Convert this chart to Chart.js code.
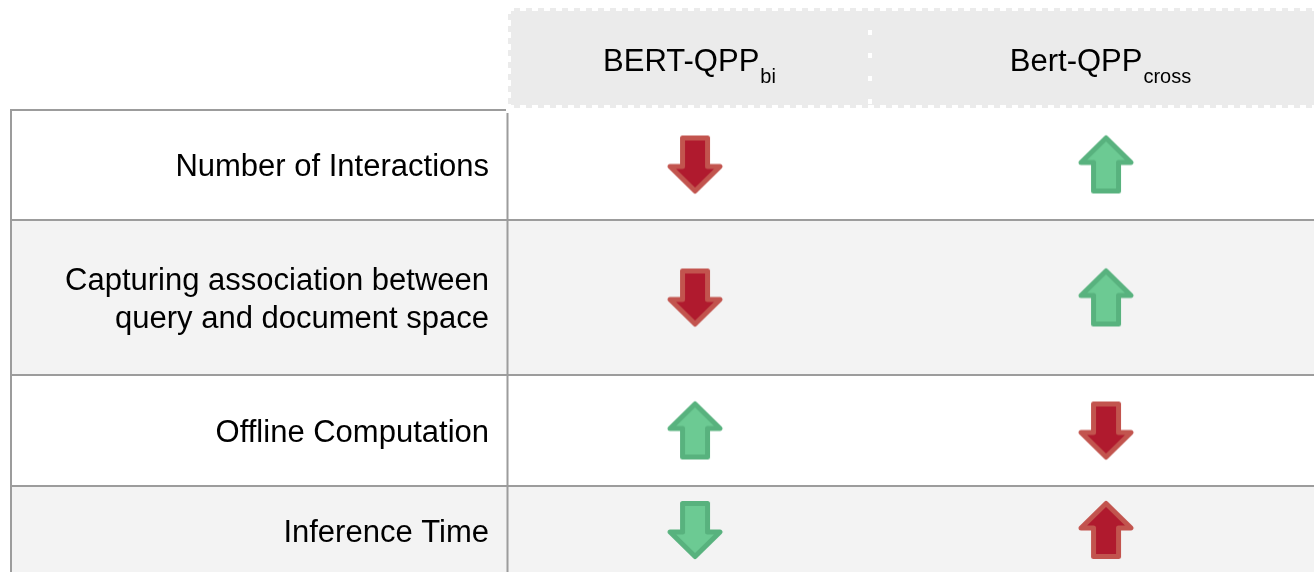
<!DOCTYPE html>
<html>
<head>
<meta charset="utf-8">
<script src="https://cdn.jsdelivr.net/npm/chart.js@4/dist/chart.umd.min.js"></script>
<style>
  html, body { margin: 0; padding: 0; background: #ffffff; }
  #wrap { width: 1314px; height: 572px; }
</style>
</head>
<body>
<div id="wrap"><canvas id="c" width="1314" height="572"></canvas></div>
<script>
// ---------- data ----------
const features = [
  'Number of Interactions',
  ['Capturing association between', 'query and document space'],
  'Offline Computation',
  'Inference Time'
];
const modelNames = ['BERT-QPP', 'Bert-QPP'];
const modelSubs = ['bi', 'cross'];
// 1 = higher (up arrow), -1 = lower (down arrow)
const biDirection = [-1, -1, 1, -1];
const crossDirection = [1, 1, -1, 1];
// whether that direction is favourable (green) or not (red)
const biFavourable = [false, false, true, true];
const crossFavourable = [true, true, false, false];

// ---------- layout (not data) ----------
const FONT = "'Liberation Sans', Arial, Helvetica, sans-serif";
const headerTop = 8;
const tableTop = 108;
const labelColWidth = 508;
const rowEdges = [1, 112, 267, 378, 466];   // y-scale units (pixels below tableTop)
const yMax = 464;
const xMin = 0.045, xMax = 2.006;
const headerSplitPx = 870, headerRightPx = 1330;
const lineColor = '#9c9c9c';
const altRowColor = '#f3f3f3';
const headerColor = '#ebebeb';

const rowCenters = features.map((f, i) => (rowEdges[i] + rowEdges[i + 1]) / 2);

function makeArrow(dir, good) {
  const c = document.createElement('canvas');
  c.width = 64; c.height = 66;
  const g = c.getContext('2d');
  g.translate(32, 33);
  if (dir < 0) g.scale(1, -1);
  g.beginPath();
  g.moveTo(0, -26.5);
  g.lineTo(25, -2);
  g.lineTo(12.5, -2);
  g.lineTo(12.5, 26.5);
  g.lineTo(-12.5, 26.5);
  g.lineTo(-12.5, -2);
  g.lineTo(-25, -2);
  g.closePath();
  g.lineJoin = 'round';
  g.lineWidth = 5;
  g.fillStyle = good ? '#6cca93' : '#b01a2e';
  g.strokeStyle = good ? '#58b27e' : '#c2544e';
  g.fill();
  g.stroke();
  return c;
}

const tablePlugin = {
  id: 'tablePlugin',
  beforeDraw(chart) {
    const ctx = chart.ctx;
    const y = chart.scales.y;
    const W = chart.width, H = chart.height;
    ctx.save();
    ctx.fillStyle = '#ffffff';
    ctx.fillRect(0, 0, W, H);
    // alternating row backgrounds
    features.forEach((f, i) => {
      if (i % 2 === 1) {
        const t = y.getPixelForValue(rowEdges[i]);
        const b = y.getPixelForValue(rowEdges[i + 1]);
        ctx.fillStyle = altRowColor;
        ctx.fillRect(10, t, W - 10, b - t);
      }
    });
    // header band
    const left = chart.chartArea.left;
    ctx.fillStyle = headerColor;
    ctx.fillRect(left, headerTop, headerRightPx - left, tableTop - headerTop);
    ctx.strokeStyle = '#ffffff';
    ctx.lineWidth = 3;
    ctx.setLineDash([6, 6]);
    ctx.beginPath();
    ctx.moveTo(left, headerTop + 1.5); ctx.lineTo(W, headerTop + 1.5);
    ctx.moveTo(left, tableTop - 1.5); ctx.lineTo(W, tableTop - 1.5);
    ctx.moveTo(left + 1.5, headerTop); ctx.lineTo(left + 1.5, tableTop);
    ctx.stroke();
    ctx.lineWidth = 4;
    ctx.setLineDash([5, 18]);
    ctx.beginPath();
    ctx.moveTo(headerSplitPx, headerTop + 22); ctx.lineTo(headerSplitPx, tableTop);
    ctx.stroke();
    ctx.setLineDash([]);
    // header text
    const cols = [[left, headerSplitPx], [headerSplitPx, headerRightPx]];
    ctx.fillStyle = '#000000';
    ctx.textBaseline = 'alphabetic';
    ctx.textAlign = 'left';
    modelNames.forEach((name, i) => {
      ctx.font = '31px ' + FONT;
      const w1 = ctx.measureText(name).width;
      ctx.font = '20px ' + FONT;
      const w2 = ctx.measureText(modelSubs[i]).width;
      const cx = (cols[i][0] + cols[i][1]) / 2;
      const x0 = cx - (w1 + w2) / 2;
      ctx.font = '31px ' + FONT;
      ctx.fillText(name, x0, 71);
      ctx.font = '20px ' + FONT;
      ctx.fillText(modelSubs[i], x0 + w1 + 1, 83);
    });
    // grid lines
    ctx.strokeStyle = lineColor;
    ctx.lineWidth = 2;
    ctx.beginPath();
    const top = y.getPixelForValue(rowEdges[0]);
    ctx.moveTo(10, top + 1); ctx.lineTo(506, top + 1);
    ctx.moveTo(11, top); ctx.lineTo(11, H);
    ctx.moveTo(left - 0.5, top + 4); ctx.lineTo(left - 0.5, H);
    for (let i = 1; i < rowEdges.length - 1; i++) {
      const p = Math.round(y.getPixelForValue(rowEdges[i]));
      ctx.moveTo(10, p); ctx.lineTo(W, p);
    }
    ctx.stroke();
    ctx.restore();
  }
};

const datasets = [
  { dir: biDirection, fav: biFavourable, x: 0.5, label: modelNames[0] + modelSubs[0] },
  { dir: crossDirection, fav: crossFavourable, x: 1.5, label: modelNames[1] + modelSubs[1] }
].map(d => ({
  label: d.label,
  data: d.dir.map((v, i) => ({ x: d.x, y: rowCenters[i] })),
  pointStyle: d.dir.map((v, i) => makeArrow(v, d.fav[i])),
  pointRadius: 5,
  pointHoverRadius: 5,
  clip: false
}));

new Chart(document.getElementById('c'), {
  type: 'scatter',
  data: { datasets },
  plugins: [tablePlugin],
  options: {
    responsive: false,
    animation: false,
    devicePixelRatio: 1,
    layout: { autoPadding: false, padding: { top: tableTop, left: 0, right: 0, bottom: 0 } },
    plugins: { legend: { display: false }, tooltip: { enabled: false } },
    events: [],
    scales: {
      x: { type: 'linear', min: xMin, max: xMax, display: false },
      y: {
        type: 'linear',
        reverse: true,
        min: 0,
        max: yMax,
        position: 'left',
        border: { display: false },
        grid: { display: false, drawTicks: false },
        afterFit(scale) {
          scale.width = labelColWidth;
          scale.paddingTop = 0;
          scale.paddingBottom = 0;
        },
        afterBuildTicks(scale) { scale.ticks = rowCenters.map(v => ({ value: v })); },
        ticks: {
          autoSkip: false,
          padding: 19,
          labelOffset: 3,
          color: '#000000',
          font: { family: FONT, size: 31, lineHeight: 1.2 },
          callback: (value, index) => features[index]
        }
      }
    }
  }
});
</script>
</body>
</html>
